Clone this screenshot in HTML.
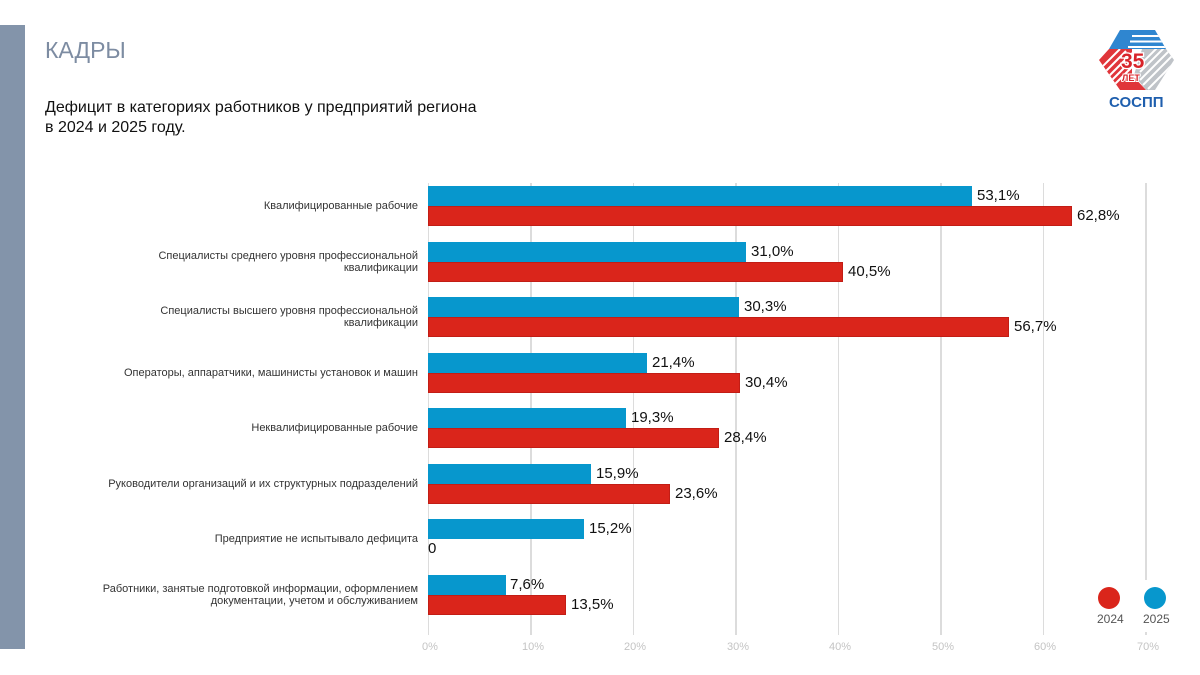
<!DOCTYPE html>
<html><head><meta charset="utf-8">
<style>
*{margin:0;padding:0;box-sizing:border-box}
body{width:1200px;height:675px;background:#fff;position:relative;overflow:hidden;font-family:"Liberation Sans","DejaVu Sans",sans-serif}
.side{position:absolute;left:0;top:25px;width:25px;height:624px;background:#8394aa}
.title{position:absolute;left:45px;top:37px;font-size:23px;color:#7d8ca2}
.sub{position:absolute;left:45px;top:98px;font-size:16px;line-height:20px;color:#111}
.grid{position:absolute;top:183px;height:452px;width:1.5px;background:#dcdcdc}
.tick{position:absolute;top:641px;font-size:11px;color:#c4c4c4;width:40px;text-align:center}
.bar{position:absolute;height:20px}
.b{background:#0797cd}
.r{background:#da251b;border:1px solid #c21d15}
.val{position:absolute;font-size:15px;color:#111;line-height:20px}
.cat{position:absolute;right:782px;font-size:11px;color:#333;text-align:right;line-height:12px;white-space:nowrap}
.leg{position:absolute;left:1090px;top:580px;width:88px;height:52px;background:#fff}
.dot{position:absolute;width:22px;height:22px;border-radius:50%}
.lt{position:absolute;font-size:12px;color:#555}
</style></head><body>
<div class="side"></div>
<div class="title">КАДРЫ</div>
<div class="sub">Дефицит в категориях работников у предприятий региона<br>в 2024 и 2025 году.</div>

<div class="grid" style="left:427.5px"></div>
<div class="grid" style="left:530px"></div>
<div class="grid" style="left:632.5px"></div>
<div class="grid" style="left:735px"></div>
<div class="grid" style="left:837.5px"></div>
<div class="grid" style="left:940px"></div>
<div class="grid" style="left:1042.5px"></div>
<div class="grid" style="left:1145px"></div>

<div class="tick" style="left:410px">0%</div>
<div class="tick" style="left:513px">10%</div>
<div class="tick" style="left:615px">20%</div>
<div class="tick" style="left:718px">30%</div>
<div class="tick" style="left:820px">40%</div>
<div class="tick" style="left:923px">50%</div>
<div class="tick" style="left:1025px">60%</div>
<div class="tick" style="left:1128px">70%</div>

<!-- cat 0 -->
<div class="bar b" style="left:428px;top:186px;width:544px"></div>
<div class="bar r" style="left:428px;top:206px;width:644px"></div>
<div class="val" style="left:977px;top:186px">53,1%</div>
<div class="val" style="left:1077px;top:206px">62,8%</div>
<div class="cat" style="top:200px">Квалифицированные рабочие</div>
<!-- cat 1 -->
<div class="bar b" style="left:428px;top:241.6px;width:318px"></div>
<div class="bar r" style="left:428px;top:261.6px;width:415px"></div>
<div class="val" style="left:751px;top:241.6px">31,0%</div>
<div class="val" style="left:848px;top:261.6px">40,5%</div>
<div class="cat" style="top:249.6px">Специалисты среднего уровня профессиональной<br>квалификации</div>
<!-- cat 2 -->
<div class="bar b" style="left:428px;top:297.1px;width:311px"></div>
<div class="bar r" style="left:428px;top:317.1px;width:581px"></div>
<div class="val" style="left:744px;top:297.1px">30,3%</div>
<div class="val" style="left:1014px;top:317.1px">56,7%</div>
<div class="cat" style="top:305.1px">Специалисты высшего уровня профессиональной<br>квалификации</div>
<!-- cat 3 -->
<div class="bar b" style="left:428px;top:352.7px;width:219px"></div>
<div class="bar r" style="left:428px;top:372.7px;width:312px"></div>
<div class="val" style="left:652px;top:352.7px">21,4%</div>
<div class="val" style="left:745px;top:372.7px">30,4%</div>
<div class="cat" style="top:366.7px">Операторы, аппаратчики, машинисты установок и машин</div>
<!-- cat 4 -->
<div class="bar b" style="left:428px;top:408.3px;width:198px"></div>
<div class="bar r" style="left:428px;top:428.3px;width:291px"></div>
<div class="val" style="left:631px;top:408.3px">19,3%</div>
<div class="val" style="left:724px;top:428.3px">28,4%</div>
<div class="cat" style="top:422.3px">Неквалифицированные рабочие</div>
<!-- cat 5 -->
<div class="bar b" style="left:428px;top:463.9px;width:163px"></div>
<div class="bar r" style="left:428px;top:483.9px;width:242px"></div>
<div class="val" style="left:596px;top:463.9px">15,9%</div>
<div class="val" style="left:675px;top:483.9px">23,6%</div>
<div class="cat" style="top:477.9px">Руководители организаций и их структурных подразделений</div>
<!-- cat 6 -->
<div class="bar b" style="left:428px;top:519.4px;width:156px"></div>
<div class="val" style="left:589px;top:519.4px">15,2%</div>
<div class="val" style="left:428px;top:539.4px">0</div>
<div class="cat" style="top:533.4px">Предприятие не испытывало дефицита</div>
<!-- cat 7 -->
<div class="bar b" style="left:428px;top:575px;width:78px"></div>
<div class="bar r" style="left:428px;top:595px;width:138px"></div>
<div class="val" style="left:510px;top:575px">7,6%</div>
<div class="val" style="left:571px;top:595px">13,5%</div>
<div class="cat" style="top:583px">Работники, занятые подготовкой информации, оформлением<br>документации, учетом и обслуживанием</div>

<div class="leg"></div>
<div class="dot" style="left:1098px;top:587px;background:#da251b"></div>
<div class="dot" style="left:1144px;top:587px;background:#0797cd"></div>
<div class="lt" style="left:1097px;top:612px">2024</div>
<div class="lt" style="left:1143px;top:612px">2025</div>

<svg style="position:absolute;left:1090px;top:25px" width="95" height="90" viewBox="0 0 95 90">
  <defs>
    <clipPath id="cb"><polygon points="30,5 65,5 76,24 19,24"/></clipPath>
    <clipPath id="cr"><polygon points="19,24 42,24 42,50 56,65 30,65 9,35"/></clipPath>
    <clipPath id="cg"><polygon points="76,24 84,35 65,65 56,65 44,50 52,24"/></clipPath>
  </defs>
  <g clip-path="url(#cb)">
    <rect x="0" y="0" width="95" height="30" fill="#2f86d0"/>
    <g stroke="#fff" stroke-width="2">
      <line x1="42" y1="11" x2="90" y2="11"/>
      <line x1="40" y1="16.5" x2="90" y2="16.5"/>
      <line x1="38" y1="22" x2="90" y2="22"/>
    </g>
  </g>
  <g clip-path="url(#cr)">
    <rect x="0" y="20" width="60" height="50" fill="#e0353a"/>
    <g stroke="#fff" stroke-width="2">
      <line x1="8" y1="46" x2="30" y2="24"/>
      <line x1="10" y1="52" x2="36" y2="26"/>
      <line x1="13" y1="57" x2="42" y2="28"/>
      <line x1="17" y1="60" x2="46" y2="31"/>
      <line x1="22" y1="62" x2="48" y2="36"/>
    </g>
  </g>
  <g clip-path="url(#cg)">
    <rect x="40" y="20" width="50" height="50" fill="#bfc3c8"/>
    <g stroke="#fff" stroke-width="2">
      <line x1="52" y1="38" x2="72" y2="18"/>
      <line x1="50" y1="47" x2="76" y2="21"/>
      <line x1="50" y1="55" x2="80" y2="25"/>
      <line x1="53" y1="60" x2="84" y2="29"/>
      <line x1="58" y1="64" x2="86" y2="36"/>
    </g>
  </g>
  <text x="31" y="43" font-family="Liberation Sans,sans-serif" font-weight="bold" font-size="21" fill="#d8242a" stroke="#fff" stroke-width="2.5" paint-order="stroke">35</text>
  <text x="32" y="56" font-family="Liberation Sans,sans-serif" font-weight="bold" font-size="9" fill="#d8242a" stroke="#fff" stroke-width="2" paint-order="stroke">ЛЕТ</text>
  <text x="19" y="82" font-family="Liberation Sans,sans-serif" font-weight="bold" font-size="15" fill="#1f5fae">СОСПП</text>
</svg>
</body></html>
